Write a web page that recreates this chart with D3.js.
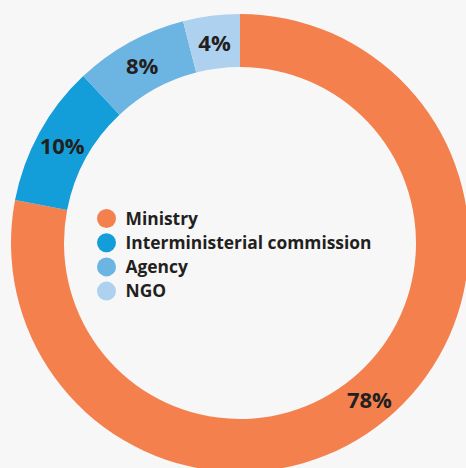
<!DOCTYPE html>
<html>
<head>
<meta charset="utf-8">
<script src="https://cdn.jsdelivr.net/npm/d3@7"></script>
<style>
  html, body { margin: 0; padding: 0; background: #f7f7f7; }
  svg { display: block; }
  text { font-family: "Open Sans", "Noto Sans", sans-serif; font-weight: 700; fill: #231f20; }
</style>
</head>
<body>
<svg id="chart" width="466" height="468"></svg>
<script>
// Share of bodies by type (percent)
const categories = ["Ministry", "Interministerial commission", "Agency", "NGO"];
const shares = [78, 10, 8, 4];
const palette = ["#f4804e", "#139dd9", "#6cb4e2", "#aed1ef"];

const width = 466, height = 468;
const cx = 240, cy = 243;
const outerR = 229, innerR = 176;

const svg = d3.select("#chart");
const color = d3.scaleOrdinal().domain(categories).range(palette);

const data = categories.map((c, i) => ({ name: c, value: shares[i] }));
const pie = d3.pie().value(d => d.value).sort(null);
const arc = d3.arc().innerRadius(innerR).outerRadius(outerR);
const labelArc = d3.arc().innerRadius(203).outerRadius(203);

const g = svg.append("g").attr("transform", `translate(${cx},${cy})`);
const arcs = pie(data);

g.selectAll("path.slice")
  .data(arcs)
  .join("path")
  .attr("class", "slice")
  .attr("d", arc)
  .attr("fill", d => color(d.data.name));

g.selectAll("text.pct")
  .data(arcs)
  .join("text")
  .attr("class", "pct")
  .attr("transform", d => `translate(${labelArc.centroid(d)})`)
  .attr("text-anchor", "middle")
  .attr("dominant-baseline", "central")
  .style("font-size", "22px")
  .text(d => d.data.value + "%");

// Legend inside the ring
const legend = svg.append("g").attr("transform", "translate(106.5,218.5)");
const rowStep = 24.2;
const items = legend.selectAll("g.item")
  .data(categories)
  .join("g")
  .attr("class", "item")
  .attr("transform", (d, i) => `translate(0,${i * rowStep})`);

items.append("circle")
  .attr("r", 9.5)
  .attr("fill", d => color(d));

items.append("text")
  .attr("x", 19)
  .attr("dy", "0.35em")
  .style("font-size", "17.4px")
  .text(d => d);
</script>
</body>
</html>
